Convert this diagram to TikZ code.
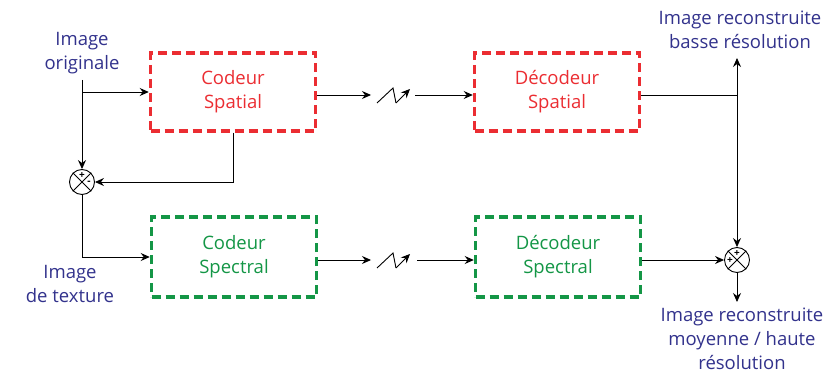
\documentclass[tikz,border=0pt]{standalone}
\usepackage{fontspec}
\setmainfont{Open Sans}
\usetikzlibrary{arrows.meta,calc}
\definecolor{txtblue}{RGB}{50,50,140}
\definecolor{boxred}{RGB}{235,45,50}
\definecolor{boxgreen}{RGB}{20,150,70}
\begin{document}
\begin{tikzpicture}[x=1pt,y=-1pt,
  every node/.style={font=\fontsize{18.5}{24}\selectfont},
  redbox/.style={draw=boxred,line width=3.5pt,dash pattern=on 9pt off 5pt,minimum width=165pt,minimum height=78pt,text=boxred,align=center,inner sep=0pt},
  greenbox/.style={draw=boxgreen,line width=3.5pt,dash pattern=on 9pt off 5pt,minimum width=165pt,minimum height=80pt,text=boxgreen,align=center,inner sep=0pt},
  lbl/.style={text=txtblue,align=center,inner sep=0pt},
  mix/.style={draw,circle,minimum size=25pt,inner sep=0pt,line width=0.9pt},
  sgn/.style={inner sep=0pt,font=\fontsize{10}{10}\selectfont\bfseries},
  conn/.style={line width=0.9pt},
  arr/.style={conn,-{Stealth[length=9pt,width=8pt,inset=3pt]}}
]
\useasboundingbox (0,0) rectangle (834,374);
% boxes
\node[redbox] (cs) at (233,92) {Codeur\\Spatial};
\node[redbox] (ds) at (557,92) {Décodeur\\Spatial};
\node[greenbox] (cp) at (234,257) {Codeur\\Spectral};
\node[greenbox] (dp) at (558,257) {Décodeur\\Spectral};
% mixers
\node[mix] (m1) at (82,182) {};
\draw[line width=0.9pt] (m1.45) -- (m1.225) (m1.135) -- (m1.-45);
\node[sgn] (m1p) at (82,175.5) {+};
\node[sgn] (m1m) at (89,183) {-};
\node[mix] (m2) at (737,260) {};
\draw[line width=0.9pt] (m2.45) -- (m2.225) (m2.135) -- (m2.-45);
\node[sgn] (m2p) at (737,253.5) {+};
\node[sgn] (m2q) at (730,261) {+};
% labels
\node[lbl] (io) at (82,53) {Image\\originale};
\node[lbl] (it) at (70,284) {Image\\de texture};
\node[lbl] (irb) at (740,30) {Image reconstruite\\basse résolution};
\node[lbl] (irh) at (742,339) {Image reconstruite\\moyenne / haute\\résolution};
% coordinates
\coordinate (a0) at (82,80);
\coordinate (a1) at (82,92);
\coordinate (b1) at (233,182);
\coordinate (c1) at (82,257);
\coordinate (t1) at (371,95);
\coordinate (z0) at (377,103);
\coordinate (z1) at (393,88);
\coordinate (z2) at (396,103);
\coordinate (z3) at (410,89);
\coordinate (t2) at (415,95);
\coordinate (u1) at (371,260);
\coordinate (y0) at (377,268);
\coordinate (y1) at (393,253);
\coordinate (y2) at (396,268);
\coordinate (y3) at (410,254);
\coordinate (u2) at (417,260);
\coordinate (j1) at (737,95);
\coordinate (j2) at (737,58);
\coordinate (k1) at (737,302);
% connectors
\draw[conn] (a0) -- (a1);
\draw[arr] (a1) -- (m1);
\draw[arr] (a1) -- (cs.west|-a1);
\draw[arr] (cs.south) -- (b1) -- (m1);
\draw[arr] (m1) -- (c1) -- (cp.west|-c1);
% top transmission
\draw[arr] (cs.east|-t1) -- (t1);
\draw[conn] (z0) -- (z1) -- (z2);
\draw[arr] (z2) -- (z3);
\draw[arr] (t2) -- (ds.west|-t2);
% bottom transmission
\draw[arr] (cp.east|-u1) -- (u1);
\draw[conn] (y0) -- (y1) -- (y2);
\draw[arr] (y2) -- (y3);
\draw[arr] (u2) -- (dp.west|-u2);
% outputs
\draw[conn] (ds.east|-j1) -- (j1);
\draw[arr] (j1) -- (j2);
\draw[arr] (j1) -- (m2);
\draw[arr] (dp.east|-m2) -- (m2);
\draw[arr] (m2) -- (k1);
\end{tikzpicture}
\end{document}
